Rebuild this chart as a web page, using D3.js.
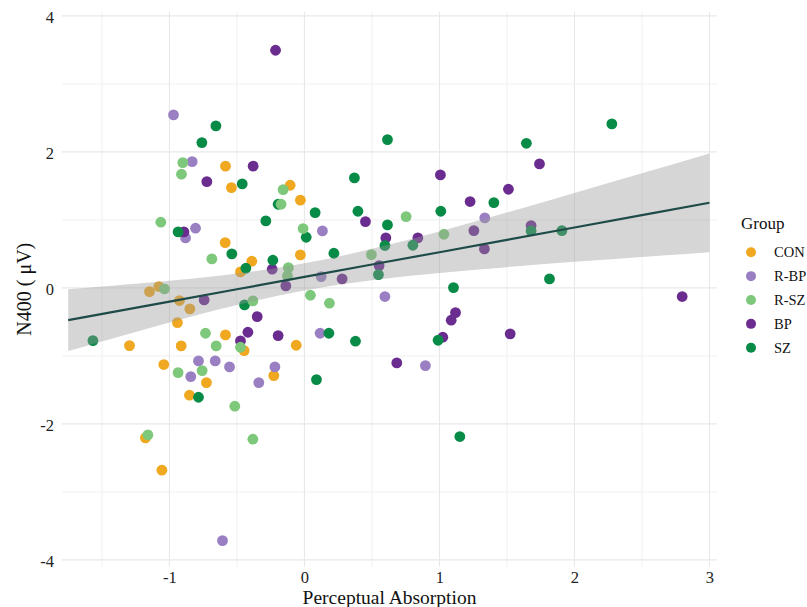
<!DOCTYPE html>
<html>
<head>
<meta charset="utf-8">
<script src="https://cdn.jsdelivr.net/npm/d3@7"></script>
<style>
  html, body { margin: 0; padding: 0; background: #ffffff; }
  svg { display: block; }
  text { font-family: "Liberation Serif", "Times New Roman", serif; }
</style>
</head>
<body>
<div id="chart"></div>
<script>
// ---- Data: Perceptual Absorption (x) vs N400 amplitude (y), by group ----
const groups = ["CON", "R-BP", "R-SZ", "BP", "SZ"];
const groupColors = ["#EFA820", "#9A80C3", "#7DC87A", "#6A2C8F", "#088B46"];

const conX = [-0.585, -0.541, -0.106, -0.030, -0.587, -0.390, -0.474, -0.030, -1.148, -1.079, -0.926, -0.849,
              -0.447, -0.061, -1.296, -0.913, -0.941, -0.585, -1.042, -0.726, -0.852, -0.227, -1.178, -1.056];
const conY = [1.790, 1.475, 1.510, 1.290, 0.666, 0.392, 0.235, 0.485, -0.054, 0.020, -0.186, -0.309,
              -0.922, -0.843, -0.848, -0.853, -0.510, -0.691, -1.127, -1.392, -1.578, -1.289, -2.206, -2.680];

const rbpX = [-0.970, -0.832, -0.807, -0.881, 0.133, 1.336, 0.124, 0.596, 0.116, 0.896, -0.842, -0.785,
              -0.661, -0.555, -0.219, -0.338, -0.607];
const rbpY = [2.544, 1.857, 0.878, 0.735, 0.838, 1.029, 0.166, -0.127, -0.667, -1.142, -1.304, -1.074,
              -1.074, -1.162, -1.162, -1.392, -3.716];

const bpX = [-0.214, -0.380, -0.723, -0.893, -0.239, -0.138, 1.007, 0.452, 0.603, 1.227, 1.511, 1.255,
             1.333, 0.840, 0.553, 0.279, 1.741, 1.679, 2.798, -0.743, -0.350, -0.419, -0.474, -0.195,
             1.119, 1.087, 1.025, 1.524, 0.684];
const bpY = [3.495, 1.790, 1.563, 0.824, 0.275, 0.030, 1.662, 0.975, 0.735, 1.270, 1.451, 0.843,
             0.574, 0.735, 0.328, 0.132, 1.824, 0.917, -0.127, -0.176, -0.422, -0.652, -0.779, -0.701,
             -0.363, -0.475, -0.725, -0.676, -1.103];

const szX = [-0.656, -0.760, -0.461, -0.195, -0.936, -0.286, -0.538, -0.434, -0.234, 0.615, 0.370, 0.396,
             0.079, 0.615, 0.596, 1.010, 1.403, 0.803, 0.013, 0.218, 0.548, 1.104, -0.444, -1.567,
             -0.785, 0.990, 0.181, 0.378, 0.089, 1.151, 2.277, 1.644, 1.679, 1.907, 1.815];
const szY = [2.382, 2.137, 1.529, 1.230, 0.824, 0.985, 0.500, 0.289, 0.407, 2.181, 1.618, 1.127,
             1.108, 0.926, 0.623, 1.127, 1.255, 0.627, 0.745, 0.510, 0.196, 0.005, -0.250, -0.775,
             -1.608, -0.770, -0.667, -0.784, -1.348, -2.186, 2.412, 2.127, 0.838, 0.843, 0.132];

const rszX = [-0.901, -0.911, -0.158, -0.173, -1.064, -0.686, -0.119, -0.126, -0.010, 0.753, 1.033, 0.496,
              -1.037, -0.382, -0.474, -0.733, -0.654, -0.936, -0.758, -0.516, -1.160, -0.382, 0.044, 0.185];
const rszY = [1.843, 1.672, 1.446, 1.230, 0.966, 0.426, 0.299, 0.176, 0.873, 1.049, 0.789, 0.490,
              -0.015, -0.191, -0.873, -0.667, -0.853, -1.245, -1.216, -1.740, -2.162, -2.225, -0.108, -0.225];

// Linear fit with its 95% confidence band
const fitX     = [-1.75, -1.0, -0.5, 0.0, 0.5, 1.0, 1.5, 2.0, 2.5, 3.0];
const fitY     = [-0.474, -0.201, -0.020, 0.162, 0.344, 0.525, 0.707, 0.889, 1.070, 1.252];
const fitLower = [-0.928, -0.508, -0.251, -0.037, 0.113, 0.219, 0.305, 0.383, 0.455, 0.526];
const fitUpper = [-0.021, 0.105, 0.211, 0.361, 0.575, 0.831, 1.109, 1.396, 1.685, 1.978];

// Axis ticks
const xTicks = [-1, 0, 1, 2, 3];
const yTicks = [-4, -2, 0, 2, 4];
const xMinor = [-1.5, -0.5, 0.5, 1.5, 2.5];
const yMinor = [-3, -1, 1, 3];

// ---- Layout ----
const W = 807, H = 607;
const panel = { left: 62, right: 717, top: 11.7, bottom: 566.7 };

const svg = d3.select("#chart").append("svg")
  .attr("width", W).attr("height", H);

const x = d3.scaleLinear().domain([-1.796, 3.056]).range([panel.left, panel.right]);
const y = d3.scaleLinear().domain([-4.10, 4.062]).range([panel.bottom, panel.top]);

// Grid lines
const grid = svg.append("g");
grid.selectAll(".ymin").data(yMinor).join("line")
  .attr("x1", panel.left).attr("x2", panel.right)
  .attr("y1", d => y(d)).attr("y2", d => y(d))
  .attr("stroke", "#F0F0F0").attr("stroke-width", 1);
grid.selectAll(".xmin").data(xMinor).join("line")
  .attr("y1", panel.top).attr("y2", panel.bottom)
  .attr("x1", d => x(d)).attr("x2", d => x(d))
  .attr("stroke", "#F0F0F0").attr("stroke-width", 1);
grid.selectAll(".ymaj").data(yTicks).join("line")
  .attr("x1", panel.left).attr("x2", panel.right)
  .attr("y1", d => y(d)).attr("y2", d => y(d))
  .attr("stroke", "#E8E8E8").attr("stroke-width", 1.1);
grid.selectAll(".xmaj").data(xTicks).join("line")
  .attr("y1", panel.top).attr("y2", panel.bottom)
  .attr("x1", d => x(d)).attr("x2", d => x(d))
  .attr("stroke", "#E8E8E8").attr("stroke-width", 1.1);

// Points
const series = [
  { g: "CON",  xs: conX, ys: conY },
  { g: "R-BP", xs: rbpX, ys: rbpY },
  { g: "BP",   xs: bpX,  ys: bpY },
  { g: "SZ",   xs: szX,  ys: szY },
  { g: "R-SZ", xs: rszX, ys: rszY }
];
const color = d3.scaleOrdinal().domain(groups).range(groupColors);

const pts = svg.append("g");
series.forEach(s => {
  const rows = s.xs.map((v, i) => ({ x: v, y: s.ys[i], g: s.g }));
  pts.selectAll(null).data(rows).join("circle")
    .attr("cx", d => x(d.x)).attr("cy", d => y(d.y))
    .attr("r", 5.4)
    .attr("fill", d => color(d.g));
});

// Confidence band (drawn over the points, semi-transparent)
const band = fitX.map((v, i) => ({ x: v, lo: fitLower[i], hi: fitUpper[i], f: fitY[i] }));
svg.append("path")
  .datum(band)
  .attr("d", d3.area().curve(d3.curveNatural)
    .x(d => x(d.x)).y0(d => y(d.lo)).y1(d => y(d.hi)))
  .attr("fill", "#999999").attr("fill-opacity", 0.4);

// Fit line
svg.append("path")
  .datum(band)
  .attr("d", d3.line().x(d => x(d.x)).y(d => y(d.f)))
  .attr("fill", "none").attr("stroke", "#1E4B48").attr("stroke-width", 2.2);

// Axes (labels only); plain hyphen for negative numbers
const plain = d => String(d);
const yAxis = svg.append("g")
  .attr("transform", `translate(${panel.left},0)`)
  .call(d3.axisLeft(y).tickValues(yTicks).tickSize(0).tickPadding(8).tickFormat(plain));
const xAxis = svg.append("g")
  .attr("transform", `translate(0,${panel.bottom})`)
  .call(d3.axisBottom(x).tickValues(xTicks).tickSize(0).tickPadding(4.5).tickFormat(plain));
[yAxis, xAxis].forEach(a => {
  a.select(".domain").remove();
  a.selectAll("text")
    .attr("font-family", "'Liberation Serif', 'Times New Roman', serif")
    .attr("font-size", 16.5).attr("fill", "#222");
});
yAxis.selectAll("text").attr("dy", "0.4em");

// Axis titles
svg.append("text")
  .attr("x", (panel.left + panel.right) / 2).attr("y", 604)
  .attr("text-anchor", "middle").attr("font-size", 19.5).attr("fill", "#111")
  .text("Perceptual Absorption");
svg.append("text")
  .attr("transform", `translate(31,${(panel.top + panel.bottom) / 2}) rotate(-90)`)
  .attr("text-anchor", "middle").attr("font-size", 20).attr("fill", "#111")
  .text("N400 ( μV)");

// Legend
const legend = svg.append("g");
legend.append("text")
  .attr("x", 741).attr("y", 229)
  .attr("font-size", 17).attr("fill", "#111")
  .text("Group");
const items = legend.selectAll(".item").data(groups).join("g")
  .attr("transform", (d, i) => `translate(751,${252.3 + i * 23.85})`);
items.append("circle").attr("r", 5).attr("fill", d => color(d));
items.append("text")
  .attr("x", 23).attr("y", 5)
  .attr("font-size", 14.5).attr("fill", "#111")
  .text(d => d);
</script>
</body>
</html>
